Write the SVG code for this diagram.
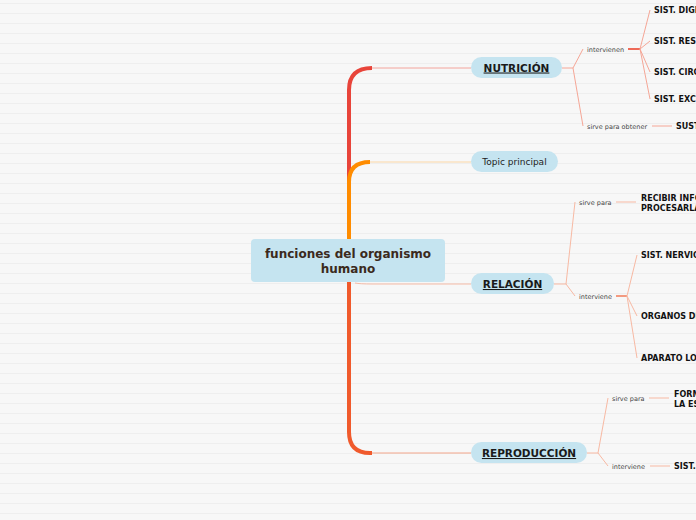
<svg xmlns="http://www.w3.org/2000/svg" width="696" height="520" viewBox="0 0 696 520">
<defs>
<pattern id="bg" width="696" height="10" patternUnits="userSpaceOnUse" y="3">
<rect width="696" height="10" fill="#f7f7f7"/>
<rect width="696" height="1" fill="#eeeeee"/>
</pattern>
<style>
.node{fill:#c5e4f0}
.t{font-family:"DejaVu Sans",Verdana,sans-serif;fill:#1a1a1a}
.main{font-size:12px;font-weight:bold;fill:#3b2a1c}
.mt{font-size:10.5px;font-weight:bold;text-decoration:underline}
.tp{font-size:9px;fill:#222}
.lab{font-size:6.5px;fill:#444}
.leaf{font-size:8px;font-weight:bold;fill:#111}
.sb{fill:none;stroke:#f5a696;stroke-width:1}
.sb2{fill:none;stroke:#f7b9a3;stroke-width:1}
.hub{fill:none;stroke:#ee6a58;stroke-width:2}
.hub2{fill:none;stroke:#f39a80;stroke-width:2}
</style>
</defs>
<rect width="696" height="520" fill="url(#bg)"/>
<g id="connectors">
<path d="M471,68 H372" stroke="#f3a49c" stroke-width="1" fill="none"/>
<path d="M372,68 Q349,68 349,90 V240" stroke="#e8443a" stroke-width="4" fill="none"/>
<path d="M471,162 H370" stroke="#fbd7a6" stroke-width="1" fill="none"/>
<path d="M370,162 Q349,162 349,182 V240" stroke="#ff8c00" stroke-width="4" fill="none"/>
<path d="M355,283 Q360,284 372,284 H471" stroke="#f6bca8" stroke-width="1" fill="none"/>
<path d="M471,453 H372" stroke="#f2a58a" stroke-width="1" fill="none"/>
<path d="M349,282 V432 Q349,453 370,453 H372" stroke="#f05a2c" stroke-width="4" fill="none"/>
<path class="sb" d="M562,68 H573 L583,49 M573,68 L583,126"/>
<path class="hub" d="M628,49 H640"/>
<path class="sb" d="M640,49 L650,10 M640,49 L650,41 M640,49 L650,72 M640,49 L650,99"/>
<path class="sb" d="M652,126 H672"/>
<path class="sb2" d="M554,284 H566 L575,202 M566,284 L575,296"/>
<path class="sb2" d="M616,202 H636"/>
<path class="hub2" d="M616,296 H627"/>
<path class="sb2" d="M627,296 L637,255 M627,296 L637,316 M627,296 L637,358"/>
<path class="sb2" d="M587,453 H598 L608,398 M598,453 L608,466"/>
<path class="sb2" d="M649,398 H669"/>
<path class="sb2" d="M650,466 H670"/>
</g>
<g id="central">
<rect class="node" x="251" y="239" width="194" height="43" rx="4"/>
<text class="t main" x="348" y="258" text-anchor="middle">funciones del organismo</text>
<text class="t main" x="348" y="273" text-anchor="middle">humano</text>
</g>
<g id="nutricion">
<rect class="node" x="471" y="57" width="91" height="21" rx="10.5"/>
<text class="t mt" x="516.5" y="71.5" text-anchor="middle">NUTRICIÓN</text>
</g>
<g id="topic">
<rect class="node" x="471" y="151" width="87" height="21" rx="10.5"/>
<text class="t tp" x="514.5" y="165" text-anchor="middle">Topic principal</text>
</g>
<g id="relacion">
<rect class="node" x="471" y="273" width="83" height="21" rx="10.5"/>
<text class="t mt" x="512.5" y="288" text-anchor="middle">RELACIÓN</text>
</g>
<g id="reproduccion">
<rect class="node" x="471" y="442" width="116" height="21" rx="10.5"/>
<text class="t mt" x="529" y="457" text-anchor="middle">REPRODUCCIÓN</text>
</g>
<g id="n-intervienen"><text class="t lab" x="587" y="52">intervienen</text></g>
<g id="n-dig"><text class="t leaf" x="654" y="13">SIST. DIGESTIVO</text></g>
<g id="n-res"><text class="t leaf" x="654" y="44">SIST. RESPIRATORIO</text></g>
<g id="n-cir"><text class="t leaf" x="654" y="75">SIST. CIRCULATORIO</text></g>
<g id="n-exc"><text class="t leaf" x="654" y="102">SIST. EXCRETOR</text></g>
<g id="n-sirveobt"><text class="t lab" x="587" y="129">sirve para obtener</text></g>
<g id="n-sust"><text class="t leaf" x="676" y="129">SUSTANCIAS</text></g>
<g id="r-sirve"><text class="t lab" x="579" y="205">sirve para</text></g>
<g id="r-recibir"><text class="t leaf" x="641" y="201">RECIBIR INFORMACIÓN Y</text><text class="t leaf" x="641" y="211">PROCESARLA</text></g>
<g id="r-interviene"><text class="t lab" x="579" y="299">interviene</text></g>
<g id="r-nerv"><text class="t leaf" x="641" y="258">SIST. NERVIOSO</text></g>
<g id="r-org"><text class="t leaf" x="641" y="319">ORGANOS DE LOS SENTIDOS</text></g>
<g id="r-apa"><text class="t leaf" x="641" y="361">APARATO LOCOMOTOR</text></g>
<g id="p-sirve"><text class="t lab" x="612" y="401">sirve para</text></g>
<g id="p-form"><text class="t leaf" x="674" y="397">FORMACIÓN</text><text class="t leaf" x="674" y="407">LA ESPECIE</text></g>
<g id="p-interviene"><text class="t lab" x="612" y="469">interviene</text></g>
<g id="p-sist"><text class="t leaf" x="674" y="469">SIST. REPRODUCTOR</text></g>
</svg>
